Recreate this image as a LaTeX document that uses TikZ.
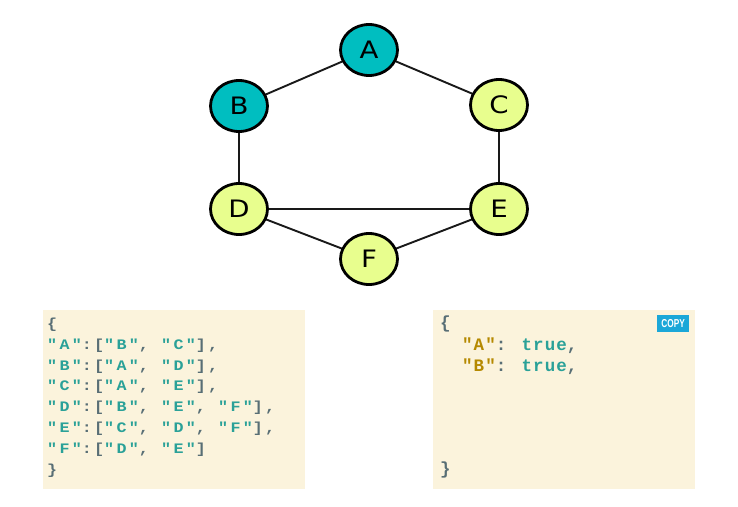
\documentclass[tikz,border=0pt]{standalone}
\usepackage{fontspec}
\usetikzlibrary{shapes.geometric}
\newfontfamily\nodefont{DejaVu Sans}[FakeStretch=1.15]
\newfontfamily\codeL{Liberation Mono}[FakeStretch=1.15,LetterSpace=16]
\newfontfamily\codeR{Liberation Mono}[FakeStretch=1.0,LetterSpace=6]
\newfontfamily\btnfont{Liberation Sans}[FakeStretch=0.72]
\definecolor{tealfill}{HTML}{00BEC0}
\definecolor{limefill}{HTML}{E8FE8E}
\definecolor{boxbg}{HTML}{FBF3DC}
\definecolor{jgreen}{HTML}{2AA198}
\definecolor{jgrey}{HTML}{586E75}
\definecolor{jyellow}{HTML}{B58900}
\definecolor{btnblue}{HTML}{1BA7D8}
\newcommand\jstr[1]{\textcolor{jgreen}{#1}}
\newcommand\jkey[1]{\textcolor{jyellow}{#1}}
\begin{document}
\begin{tikzpicture}[x=1pt,y=-1pt,
  vert/.style={ellipse,draw=black,line width=2.8pt,minimum width=57pt,minimum height=51pt,inner sep=0pt,font=\nodefont\fontsize{24}{24}\selectfont},
  visited/.style={vert,fill=tealfill},
  fresh/.style={vert,fill=limefill},
  edge/.style={draw=black!90,line width=1.9pt},
  codebox/.style={fill=boxbg,draw=none},
  cl/.style={anchor=base west,inner sep=0pt,text=jgrey,font=\codeL\bfseries\fontsize{14.5}{15}\selectfont},
  cr/.style={anchor=base west,inner sep=0pt,text=jgrey,font=\codeR\bfseries\fontsize{17.5}{18}\selectfont}]
\useasboundingbox (0,0) rectangle (738,506);
% edges first
\coordinate (pA) at (369,50);
\coordinate (pB) at (239,106);
\coordinate (pC) at (499,105);
\coordinate (pD) at (239,209);
\coordinate (pE) at (499,209);
\coordinate (pF) at (369,259);
\draw[edge] (pA) -- (pB);
\draw[edge] (pA) -- (pC);
\draw[edge] (pB) -- (pD);
\draw[edge] (pC) -- (pE);
\draw[edge] (pD) -- (pE);
\draw[edge] (pD) -- (pF);
\draw[edge] (pE) -- (pF);
\node[visited] (A) at (pA) {A};
\node[visited] (B) at (pB) {B};
\node[fresh] (C) at (pC) {C};
\node[fresh] (D) at (pD) {D};
\node[fresh] (E) at (pE) {E};
\node[fresh] (F) at (pF) {F};
% left box
\node[codebox,minimum width=262pt,minimum height=179pt,anchor=north west,inner sep=0pt] (boxL) at (43,310) {};
\node[cl] (l0) at (47,328.5) {\{};
\node[cl] (l1) at (47,349.3) {\jstr{"A"}:[\jstr{"B"}, \jstr{"C"}],};
\node[cl] (l2) at (47,370.1) {\jstr{"B"}:[\jstr{"A"}, \jstr{"D"}],};
\node[cl] (l3) at (47,390.9) {\jstr{"C"}:[\jstr{"A"}, \jstr{"E"}],};
\node[cl] (l4) at (47,411.7) {\jstr{"D"}:[\jstr{"B"}, \jstr{"E"}, \jstr{"F"}],};
\node[cl] (l5) at (47,432.5) {\jstr{"E"}:[\jstr{"C"}, \jstr{"D"}, \jstr{"F"}],};
\node[cl] (l6) at (47,453.3) {\jstr{"F"}:[\jstr{"D"}, \jstr{"E"}]};
\node[cl] (l7) at (47,474.1) {\}};
% right box
\node[codebox,minimum width=262pt,minimum height=179pt,anchor=north west,inner sep=0pt] (boxR) at (433,310) {};
\node[cr] (r0) at (440,328.5) {\{};
\node[cr] (r1) at (462,350) {\jkey{"A"}: \jstr{true},};
\node[cr] (r2) at (462,371.5) {\jkey{"B"}: \jstr{true},};
\node[cr] (r3) at (440,474) {\}};
\node[fill=btnblue,text=white,minimum width=32pt,minimum height=17pt,inner sep=0pt,anchor=north west,font=\btnfont\bfseries\fontsize{11.5}{11.5}\selectfont] (copy) at (657,315) {COPY};
\end{tikzpicture}
\end{document}
